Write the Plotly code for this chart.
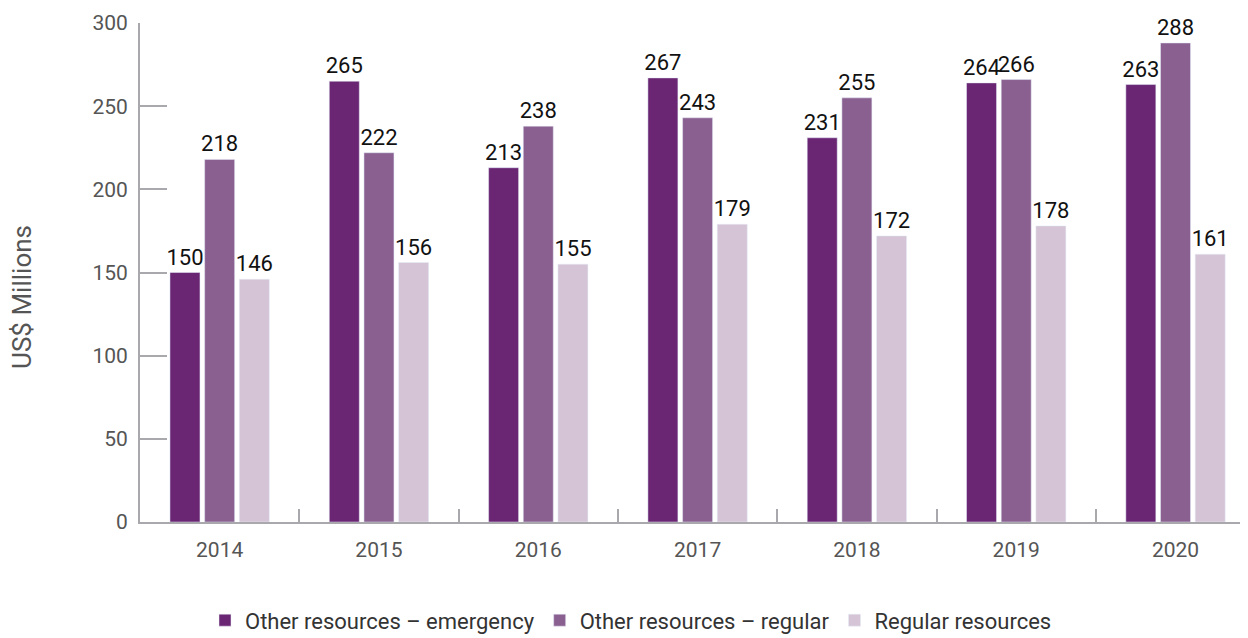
import plotly.graph_objects as go

years = ["2014", "2015", "2016", "2017", "2018", "2019", "2020"]
emergency = [150, 265, 213, 267, 231, 264, 263]
other_regular = [218, 222, 238, 243, 255, 266, 288]
regular = [146, 156, 155, 179, 172, 178, 161]

series = [
    ("Other resources \u2013 emergency", emergency, "#6a2673"),
    ("Other resources \u2013 regular", other_regular, "#8a6090"),
    ("Regular resources", regular, "#d4c4d6"),
]

fig = go.Figure()
for name, vals, col in series:
    fig.add_trace(go.Bar(
        x=years, y=vals, name=name, marker_color=col,
        text=[str(v) for v in vals], textposition="outside",
        textfont=dict(color="#111111", size=22, family="Roboto"),
        constraintext="none", cliponaxis=False,
    ))

axis_col = "#a8a8ad"
W, H = 1240, 630
L = 132
fig.update_layout(
    width=W, height=H,
    margin=dict(l=L, r=0, t=15, b=116, autoexpand=False),
    paper_bgcolor="white", plot_bgcolor="white",
    font=dict(family="Roboto", size=21, color="#555555"),
    barmode="group", bargap=0.347, bargroupgap=0.135,
    showlegend=True,
    legend=dict(orientation="h", xref="container", yref="container",
                x=(623 / W), xanchor="center", y=0.028, yanchor="middle",
                font=dict(size=22, color="#333333"),
                itemclick=False, traceorder="normal"),
    xaxis=dict(range=[-0.5, 6.455], showline=True, linecolor=axis_col, linewidth=2,
               ticks="inside", tickson="boundaries", ticklen=13, tickcolor=axis_col,
               tickwidth=2, showgrid=False, tickfont=dict(size=21, color="#555555"),
               ticklabelstandoff=8, automargin=False),
    yaxis=dict(range=[0, 300], dtick=50, showline=True, linecolor=axis_col, linewidth=2,
               ticks="inside", ticklen=27, tickcolor=axis_col, tickwidth=2,
               showgrid=False, zeroline=False, tickfont=dict(size=21, color="#555555"),
               ticklabelstandoff=6, automargin=False),
    annotations=[dict(text="US$ Millions", xref="paper", yref="paper",
                      x=(14 - L) / (W - L), y=0.451, textangle=-90, showarrow=False,
                      xanchor="center", yanchor="middle",
                      font=dict(size=26, color="#555555"))],
)

fig.write_html("out.html")
